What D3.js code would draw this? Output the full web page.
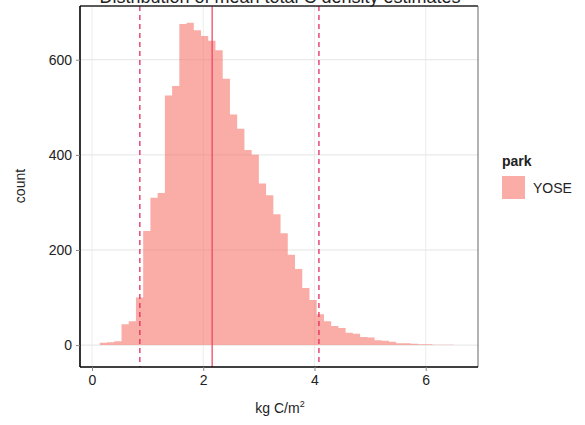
<!DOCTYPE html>
<html>
<head>
<meta charset="utf-8">
<script src="https://cdn.jsdelivr.net/npm/d3@7"></script>
<style>
  body { margin: 0; background: #fff; }
  text { font-family: "Liberation Sans", Arial, sans-serif; }
</style>
</head>
<body>
<svg id="chart" width="585" height="425"></svg>
<script>
// histogram bins (left edge in kg C/m2) and counts
const binWidth = 0.13;
const binStarts = [0.14, 0.27, 0.40, 0.53, 0.66, 0.79, 0.92, 1.05, 1.18, 1.31,
  1.44, 1.57, 1.70, 1.83, 1.96, 2.09, 2.22, 2.35, 2.48, 2.61,
  2.74, 2.87, 3.00, 3.13, 3.26, 3.39, 3.52, 3.65, 3.78, 3.91,
  4.04, 4.17, 4.30, 4.43, 4.56, 4.69, 4.82, 4.95, 5.08, 5.21,
  5.34, 5.47, 5.60, 5.73, 5.86, 5.99, 6.12, 6.25, 6.38];
const binCounts = [5, 6, 8, 44, 50, 100, 240, 310, 320, 525,
  545, 675, 678, 662, 650, 640, 620, 560, 485, 455,
  410, 400, 340, 315, 275, 235, 190, 160, 120, 95,
  65, 50, 40, 36, 26, 24, 17, 16, 10, 9,
  7, 4, 4, 3, 2, 2, 1, 1, 1];
const meanValue = 2.16;
const ciValues = [0.86, 4.08];
const xTicks = [0, 2, 4, 6];
const yTicks = [0, 200, 400, 600];
const parks = ["YOSE"];
const titleText = "Distribution of mean total C density estimates";

const svg = d3.select("#chart");
const pLeft = 80, pRight = 478, pTop = 6, pBottom = 367;

const x = d3.scaleLinear().domain([-0.216, 6.94]).range([pLeft, pRight]);
const y = d3.scaleLinear().domain([-46, 713]).range([pBottom, pTop]);

const bins = binStarts.map((b, i) => ({x0: b, x1: b + binWidth, n: binCounts[i]}));

// grid
const grid = svg.append("g");
grid.selectAll(".gx").data(xTicks).join("line")
  .attr("x1", d => x(d)).attr("x2", d => x(d))
  .attr("y1", pTop).attr("y2", pBottom)
  .attr("stroke", "#ececec").attr("stroke-width", 1);
grid.selectAll(".gy").data(yTicks).join("line")
  .attr("x1", pLeft).attr("x2", pRight)
  .attr("y1", d => y(d)).attr("y2", d => y(d))
  .attr("stroke", "#e4e4e4").attr("stroke-width", 1);

// histogram drawn as one stepped outline so bins don't show seams
const stepPts = [];
bins.forEach(d => { stepPts.push([d.x0, d.n]); stepPts.push([d.x1, d.n]); });
const area = d3.area()
  .x(d => x(d[0]))
  .y0(y(0))
  .y1(d => y(d[1]));
svg.append("path")
  .datum(stepPts)
  .attr("d", area)
  .attr("fill", "#F6776C")
  .attr("fill-opacity", 0.6);

// mean and interval lines
svg.append("line")
  .attr("x1", x(meanValue)).attr("x2", x(meanValue))
  .attr("y1", pTop).attr("y2", pBottom)
  .attr("stroke", "#EE4A66").attr("stroke-width", 1.3);
svg.append("g").selectAll("line").data(ciValues).join("line")
  .attr("x1", d => x(d)).attr("x2", d => x(d))
  .attr("y1", pTop).attr("y2", pBottom)
  .attr("stroke", "#E42C5E").attr("stroke-width", 1.3)
  .attr("stroke-dasharray", "5,4");

// panel border
svg.append("line").attr("x1", pLeft).attr("x2", pRight).attr("y1", pTop).attr("y2", pTop)
  .attr("stroke", "#222").attr("stroke-width", 1.5);
svg.append("line").attr("x1", pRight).attr("x2", pRight).attr("y1", pTop).attr("y2", pBottom)
  .attr("stroke", "#666").attr("stroke-width", 1);

// axes
const xAxis = svg.append("g").attr("transform", `translate(0,${pBottom})`)
  .call(d3.axisBottom(x).tickValues(xTicks).tickSize(4).tickPadding(4));
const yAxis = svg.append("g").attr("transform", `translate(${pLeft},0)`)
  .call(d3.axisLeft(y).tickValues(yTicks).tickSize(4).tickPadding(4));
[xAxis, yAxis].forEach(a => {
  a.select(".domain").attr("stroke", "#000").attr("stroke-width", 1.6);
  a.selectAll(".tick line").attr("stroke", "#888");
  a.selectAll(".tick text").attr("fill", "#222").style("font-size", "14px");
});
xAxis.selectAll(".domain").attr("d", `M${pLeft},0H${pRight}`);
yAxis.selectAll(".domain").attr("d", `M0,${pTop}V${pBottom}`);

// axis titles
const xl = svg.append("text").attr("x", 280).attr("y", 413)
  .attr("text-anchor", "middle").style("font-size", "14px").attr("fill", "#222");
xl.append("tspan").text("kg C/m");
xl.append("tspan").attr("dy", -6).style("font-size", "9px").text("2");

svg.append("text")
  .attr("transform", "translate(25,186) rotate(-90)")
  .attr("text-anchor", "middle").style("font-size", "14px").attr("fill", "#222")
  .text("count");

// title, clipped at the top edge as in the source image
svg.append("text").attr("x", 280).attr("y", 3)
  .attr("text-anchor", "middle").style("font-size", "18px").attr("fill", "#222")
  .text(titleText);

// legend
const lg = svg.append("g").attr("transform", "translate(502,166)");
lg.append("text").attr("x", 0).attr("y", 0)
  .style("font-size", "14px").style("font-weight", "bold").attr("fill", "#222").text("park");
lg.selectAll("rect").data(parks).join("rect")
  .attr("x", 0).attr("y", (d, i) => 10 + i * 24).attr("width", 23).attr("height", 23)
  .attr("fill", "#F6776C").attr("fill-opacity", 0.6);
lg.selectAll(".lab").data(parks).join("text")
  .attr("x", 31).attr("y", (d, i) => 27 + i * 24)
  .style("font-size", "14px").attr("fill", "#222").text(d => d);
</script>
</body>
</html>
